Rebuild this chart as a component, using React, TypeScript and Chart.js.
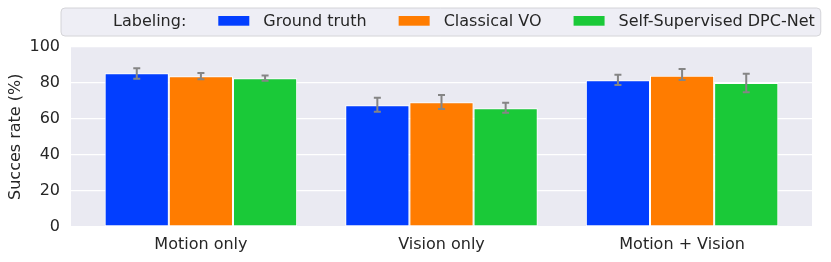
import React, { useEffect, useRef } from "react";
import { Chart, registerables } from "chart.js";

Chart.register(...registerables);

const categories = ["Motion only", "Vision only", "Motion + Vision"];
const seriesNames = ["Ground truth", "Classical VO", "Self-Supervised DPC-Net"];
const seriesColors = ["#023EFF", "#FF7C00", "#1AC938"];
const legendTitle = "Labeling:";
const yTitle = "Succes rate (%)";
const yTicks = [0, 20, 40, 60, 80, 100];

const groundTruth = [85.2, 67.4, 81.3];
const classicalVO = [83.5, 69.1, 83.8];
const dpcNet = [82.4, 65.8, 79.8];

const groundTruthLow = [82.2, 63.9, 78.7];
const groundTruthHigh = [87.9, 71.6, 84.4];
const classicalVOLow = [81.8, 65.4, 81.4];
const classicalVOHigh = [85.3, 73.1, 87.5];
const dpcNetLow = [81.0, 63.3, 74.6];
const dpcNetHigh = [84.0, 68.9, 84.9];

const seriesValues = [groundTruth, classicalVO, dpcNet];
const seriesLow = [groundTruthLow, classicalVOLow, dpcNetLow];
const seriesHigh = [groundTruthHigh, classicalVOHigh, dpcNetHigh];

const FONT = "'DejaVu Sans', sans-serif";
const TEXT = "#262626";

const bgPlugin = {
  id: "plotBg",
  beforeDraw(chart: any) {
    const { ctx, chartArea } = chart;
    ctx.save();
    ctx.fillStyle = "#EAEAF2";
    ctx.fillRect(chartArea.left, chartArea.top, chartArea.right - chartArea.left, chartArea.bottom - chartArea.top);
    ctx.restore();
  },
};

const errPlugin = {
  id: "errBars",
  afterDatasetsDraw(chart: any) {
    const { ctx } = chart;
    const yScale = chart.scales.y;
    ctx.save();
    ctx.strokeStyle = "#858585";
    ctx.lineWidth = 2;
    seriesValues.forEach((_, i) => {
      const meta = chart.getDatasetMeta(i);
      meta.data.forEach((el: any, j: number) => {
        const x = el.x;
        const yl = yScale.getPixelForValue(seriesLow[i][j]);
        const yh = yScale.getPixelForValue(seriesHigh[i][j]);
        ctx.beginPath();
        ctx.moveTo(x, yl);
        ctx.lineTo(x, yh);
        ctx.moveTo(x - 3.5, yl);
        ctx.lineTo(x + 3.5, yl);
        ctx.moveTo(x - 3.5, yh);
        ctx.lineTo(x + 3.5, yh);
        ctx.stroke();
      });
    });
    ctx.restore();
  },
};

const legendPlugin = {
  id: "customLegend",
  afterDraw(chart: any) {
    const { ctx } = chart;
    const left = 61;
    const top = 8;
    const bottom = 36;
    const midY = 21;
    ctx.save();
    ctx.font = `16px ${FONT}`;
    // measure
    const handle = 31;
    const textPad = 14;
    const colSpace = 32;
    const entries: { label: string; color: string | null }[] = [
      { label: legendTitle, color: null },
      ...seriesNames.map((n, i) => ({ label: n, color: seriesColors[i] })),
    ];
    let cursor = left + 7;
    const layout: { x: number; tx: number; e: any }[] = [];
    entries.forEach((e, k) => {
      const w = ctx.measureText(e.label).width;
      layout.push({ x: cursor, tx: cursor + handle + textPad, e });
      cursor += handle + textPad + w + (k < entries.length - 1 ? colSpace : 0);
    });
    const right = cursor + 6;
    // box
    ctx.beginPath();
    const r = 4;
    ctx.moveTo(left + r, top);
    ctx.lineTo(right - r, top);
    ctx.quadraticCurveTo(right, top, right, top + r);
    ctx.lineTo(right, bottom - r);
    ctx.quadraticCurveTo(right, bottom, right - r, bottom);
    ctx.lineTo(left + r, bottom);
    ctx.quadraticCurveTo(left, bottom, left, bottom - r);
    ctx.lineTo(left, top + r);
    ctx.quadraticCurveTo(left, top, left + r, top);
    ctx.closePath();
    ctx.fillStyle = "rgba(234,234,242,0.8)";
    ctx.fill();
    ctx.strokeStyle = "#d4d4d8";
    ctx.lineWidth = 1;
    ctx.stroke();
    layout.forEach(({ x, tx, e }) => {
      if (e.color) {
        ctx.fillStyle = e.color;
        ctx.fillRect(x, 16, handle, 9.7);
      }
      ctx.fillStyle = TEXT;
      ctx.textBaseline = "middle";
      ctx.textAlign = "left";
      ctx.fillText(e.label, tx, midY + 0.5);
    });
    ctx.restore();
  },
};

export default function App() {
  const ref = useRef<HTMLCanvasElement | null>(null);
  useEffect(() => {
    if (!ref.current) return;
    Chart.defaults.font.family = FONT;
    Chart.defaults.font.size = 16;
    Chart.defaults.color = TEXT;
    const chart = new Chart(ref.current, {
      type: "bar",
      data: {
        datasets: seriesNames.map((name, i) => ({
          label: name,
          data: seriesValues[i].map((v, j) => ({ x: j, y: v })),
          backgroundColor: seriesColors[i],
          borderColor: "#ffffff",
          borderWidth: 1,
          borderSkipped: false,
          categoryPercentage: 0.8,
          barPercentage: 1,
        })),
      },
      options: {
        animation: false,
        responsive: true,
        maintainAspectRatio: false,
        layout: { padding: { top: 46.5, right: 19, left: 0, bottom: 0 } },
        plugins: { legend: { display: false }, tooltip: { enabled: false } },
        scales: {
          x: {
            type: "linear",
            min: -0.54,
            max: 2.54,
            offset: false,
            afterBuildTicks: (axis: any) => {
              axis.ticks = categories.map((_, i) => ({ value: i }));
            },
            afterFit: (axis: any) => {
              axis.height = 35;
            },
            ticks: {
              callback: (v: any) => categories[v as number] ?? "",
              padding: 8,
              maxRotation: 0,
              autoSkip: false,
              font: { size: 16, family: FONT },
              color: TEXT,
            },
            grid: { display: false, drawTicks: false },
            border: { display: false },
          },
          y: {
            min: 0,
            max: 100,
            afterBuildTicks: (axis: any) => {
              axis.ticks = yTicks.map((v) => ({ value: v }));
            },
            afterFit: (axis: any) => {
              axis.width = 71;
            },
            ticks: {
              padding: 11,
              font: { size: 16, family: FONT },
              color: TEXT,
            },
            grid: { color: "#ffffff", lineWidth: 1.3, drawTicks: false },
            border: { display: false },
            title: {
              display: true,
              text: yTitle,
              font: { size: 16, family: FONT },
              color: TEXT,
              padding: { top: 6, bottom: 0 },
            },
          },
        },
      },
      plugins: [bgPlugin, errPlugin, legendPlugin],
    });
    return () => chart.destroy();
  }, []);
  return (
    <div style={{ position: "fixed", left: 0, top: 0, width: 831, height: 262, background: "#ffffff" }}>
      <canvas ref={ref} />
    </div>
  );
}
